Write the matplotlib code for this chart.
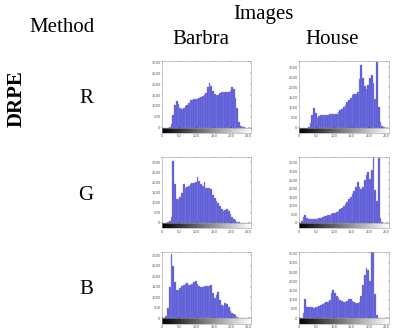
import numpy as np
import matplotlib
matplotlib.use("Agg")
import matplotlib.pyplot as plt

# gray-level bins (left edges, width 5)
gray_levels = list(range(0, 255, 5))

barbra_R = [0, 0, 0, 0, 20, 150, 600, 1050, 1230, 1100, 880, 860, 920, 980, 1050, 1150, 1250, 1290,
            1300, 1300, 1310, 1370, 1420, 1460, 1500, 1580, 1850, 2040, 1920, 1700, 1560, 1480, 1520,
            1590, 1620, 1640, 1660, 1650, 1620, 1700, 1850, 1800, 1380, 900, 250, 80, 40, 10, 0, 0, 0]
barbra_G = [0, 0, 0, 30, 60, 300, 3050, 1900, 1150, 1180, 1250, 1450, 1900, 1700, 1750, 1800, 1900,
            1970, 1980, 2000, 2270, 2050, 1900, 1820, 2000, 1700, 1720, 1700, 1650, 1380, 1200, 1080,
            950, 830, 700, 560, 620, 680, 560, 420, 300, 200, 120, 40, 10, 0, 0, 0, 0, 0, 0]
barbra_B = [0, 20, 80, 500, 1500, 3080, 2500, 1700, 1350, 1350, 1450, 1520, 1580, 1640, 1660, 1600,
            1580, 1620, 1720, 1780, 1620, 1520, 1500, 1500, 1520, 1550, 1540, 1530, 1590, 1200, 950,
            1100, 1250, 850, 600, 560, 740, 680, 550, 350, 260, 180, 120, 50, 10, 0, 0, 0, 0, 0, 0]
house_R = [0, 0, 0, 0, 0, 30, 200, 600, 950, 700, 480, 560, 620, 600, 630, 640, 640, 650, 650, 650,
           660, 690, 760, 850, 930, 1030, 1130, 1250, 1350, 1480, 1600, 1660, 1680, 1750, 2400, 3100,
           2450, 2050, 1930, 2100, 2450, 2600, 2200, 1400, 3230, 1000, 280, 70, 20, 0, 0]
house_G = [0, 100, 350, 450, 300, 200, 190, 190, 200, 210, 220, 250, 280, 330, 370, 400, 430, 460,
           500, 540, 580, 640, 700, 780, 870, 980, 1100, 1230, 1380, 1530, 1680, 1830, 2100, 2400,
           2100, 1970, 2100, 2500, 2800, 3000, 2550, 3100, 4200, 1900, 1300, 3780, 250, 50, 0, 0, 0]
house_B = [0, 0, 300, 1050, 620, 600, 590, 580, 570, 580, 600, 650, 700, 750, 800, 850, 900, 1000,
           1350, 1520, 1380, 1200, 1100, 1000, 920, 890, 880, 950, 1060, 1030, 950, 880, 820, 800,
           880, 1200, 1800, 2350, 2750, 2600, 2000, 3800, 3800, 1300, 150, 20, 0, 0, 0, 0, 0]

y_limits = {"barbra_R": 3075, "barbra_G": 3250, "barbra_B": 3160,
            "house_R": 3300, "house_G": 3850, "house_B": 3600}

x_ticks = [0, 50, 100, 150, 200, 250]
col_titles = ["Barbra", "House"]
row_labels = ["R", "G", "B"]

W, H = 393, 332
fig = plt.figure(figsize=(W / 100, H / 100), dpi=100)
fig.patch.set_facecolor("white")

serif = "Liberation Serif"

col_left = [162, 299]
col_width = [89, 90]
row_top = [61, 157, 252]
row_zero = [127.5, 222.7, 318]
cb_h = 5.6

data = [[barbra_R, house_R], [barbra_G, house_G], [barbra_B, house_B]]
names = [["barbra_R", "house_R"], ["barbra_G", "house_G"], ["barbra_B", "house_B"]]

grad = np.linspace(0, 1, 256)[None, :]
edges = np.array(gray_levels)

for r in range(3):
    for c in range(2):
        x0 = col_left[c] / W
        w = col_width[c] / W
        b = 1 - row_zero[r] / H
        h = (row_zero[r] - row_top[r]) / H
        ax = fig.add_axes([x0, b, w, h])
        ax.bar(edges, data[r][c], width=5, align="edge", color="#5858d4",
               edgecolor="#8a8ae8", linewidth=0.25)
        ax.set_xlim(0, 257)
        ymax = y_limits[names[r][c]]
        ax.set_ylim(0, ymax)
        ax.set_yticks(np.arange(0, ymax + 1, 500))
        ax.set_yticklabels([str(int(v)) for v in np.arange(0, ymax + 1, 500)])
        ax.tick_params(axis="y", labelsize=2.6, length=1, width=0.3, direction="in",
                       pad=1, colors="#555555", right=True)
        ax.set_xticks(x_ticks)
        ax.tick_params(axis="x", labelbottom=False, length=1, width=0.3, direction="in", top=True)
        for s in ax.spines.values():
            s.set_linewidth(0.4)
            s.set_color("#999999")

        cax = fig.add_axes([x0, 1 - (row_zero[r] + cb_h) / H, w, cb_h / H])
        cax.imshow(grad, aspect="auto", cmap="gray", extent=[0, 257, 0, 1])
        cax.set_xlim(0, 257)
        cax.set_yticks([])
        cax.set_xticks(x_ticks)
        cax.set_xticklabels([str(t) for t in x_ticks])
        cax.tick_params(axis="x", labelsize=2.6, length=0, pad=1, colors="#555555")
        for s in cax.spines.values():
            s.set_linewidth(0.4)
            s.set_color("#999999")

fig.text(263 / W, 1 - 15 / H, "Images", family=serif, fontsize=15, ha="center", va="center")
fig.text(62 / W, 1 - 27 / H, "Method", family=serif, fontsize=15, ha="center", va="center")
fig.text(201 / W, 1 - 40 / H, col_titles[0], family=serif, fontsize=15, ha="center", va="center")
fig.text(332 / W, 1 - 40 / H, col_titles[1], family=serif, fontsize=15, ha="center", va="center")
fig.text(17 / W, 1 - 99 / H, "DRPE", family=serif, fontsize=15, fontweight="bold",
         rotation=90, ha="center", va="center")
for lab, yy in zip(row_labels, [99, 195, 290]):
    fig.text(86 / W, 1 - yy / H, lab, family=serif, fontsize=15, ha="center", va="center")

fig.savefig("out.png", dpi=100, facecolor="white")
